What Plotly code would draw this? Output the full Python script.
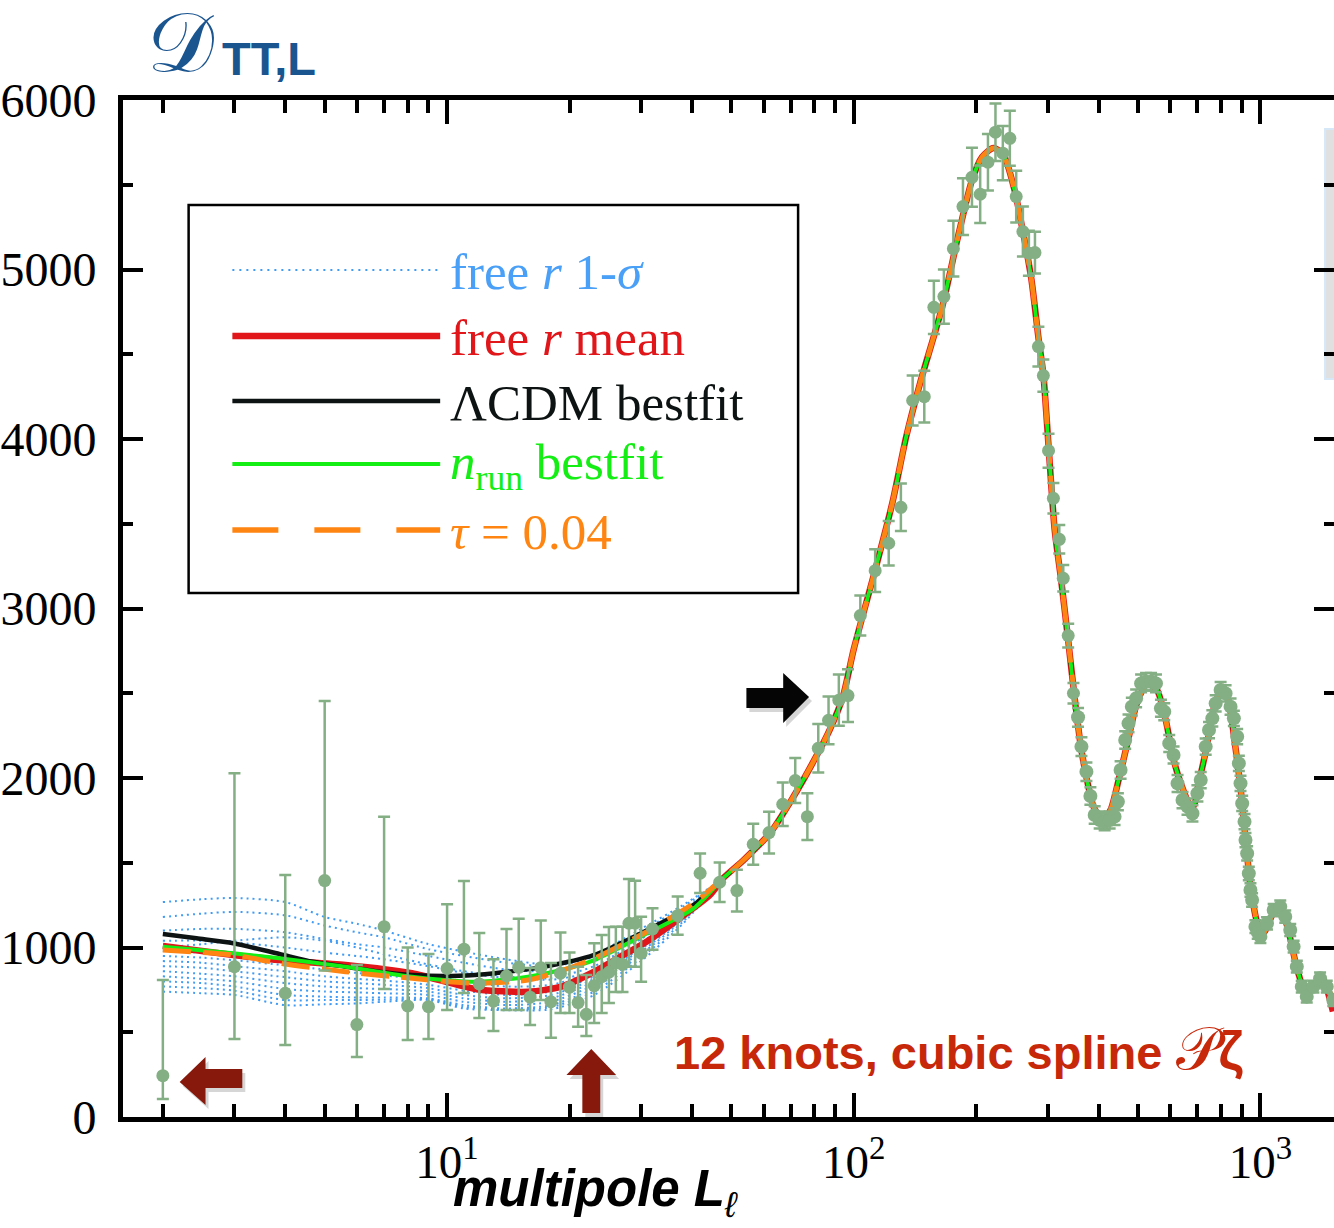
import math
import plotly.graph_objects as go

# ---------------- data ----------------
# unbinned low-ell points: ell, D, upper end of error bar, lower end of error bar
LOWL_L = list(range(2, 31))
LOWL_D = [244, 887, 730, 1395, 545, 1123, 655, 651, 876, 990, 785, 684, 832, 883, 707,
          881, 680, 848, 766, 675, 606, 775, 828, 854, 909, 901, 1143, 1143, 966]
LOWL_UP = [808, 2028, 1428, 2454, 897, 1772, 1000, 962, 1255, 1392, 1085, 930, 1109, 1170, 879,
           1159, 908, 1088, 970, 887, 838, 1025, 1074, 1121, 1123, 1123, 1404, 1394, 1182]
LOWL_LO = [106, 460, 425, 865, 354, 755, 454, 460, 631, 731, 584, 507, 631, 631, 543,
           690, 468, 613, 613, 533, 478, 555, 613, 673, 737, 737, 887, 887, 798]

# binned points with visible error bars
BIN_L = [32, 36.9, 41.9, 46.8, 51.6, 56.6, 61.9, 66.9, 71.8, 76.9, 81.8, 86.7, 91.9, 96.8,
         103.8, 112.9, 121.9, 130.6, 139.6, 149.1, 157.4, 166.6, 175.8, 185.6, 195.3, 204.6,
         213.8, 223.1, 232.6, 242.0, 250.9, 260.6, 269.6, 279.0, 284.5, 292.6, 301.3, 309.7,
         320.2, 327.5, 336.8, 347.0]
BIN_D = [1109, 1188, 1438, 1385, 1336, 1609, 1678, 1845, 1985, 1772, 2175, 2340, 2459, 2486,
         2958, 3223, 3385, 3597, 4227, 4250, 4777, 4840, 5123, 5371, 5544, 5444, 5633, 5810,
         5686, 5774, 5430, 5224, 5096, 5100, 4545, 4374, 3931, 3650, 3408, 3178, 2840, 2500]
BIN_ERR = [123, 113, 116, 116, 123, 121, 123, 128, 133, 138, 143, 141, 151, 155, 118, 126,
           131, 140, 148, 153, 157, 160, 164, 167, 174, 170, 167, 170, 160, 162, 152, 148,
           133, 123, 117, 95, 100, 90, 84, 78, 70, 60]

# dense high-ell binned points
HI_L = [356.1, 363, 373.4, 381.9, 391.3, 402.5, 414, 425.8, 437.9, 446.2, 453.1, 465.1, 473.9,
        482.9, 494.8, 508.9, 523.4, 538.3, 553.6, 569.4, 580.2, 596.8, 611.6, 625.6, 643.4,
        661.8, 680.6, 700, 713.3, 733.6, 747.5, 761.7, 776.2, 798.3, 821.1, 844.5, 860.5,
        876.8, 885.1, 893.5, 902, 914, 919, 927.7, 936.5, 945.2, 954.1, 972.2, 985, 1000,
        1038, 1078, 1119, 1151, 1184, 1207, 1229, 1264, 1300, 1350, 1402, 1456, 1511]
HI_D = [2358, 2185, 2037, 1894, 1782, 1752, 1742, 1752, 1772, 1860, 2047, 2224, 2322, 2421,
        2470, 2558, 2568, 2568, 2558, 2411, 2391, 2204, 2136, 1968, 1870, 1831, 1791, 1909,
        1988, 2185, 2283, 2352, 2440, 2519, 2499, 2421, 2352, 2244, 2086, 1968, 1850, 1742,
        1634, 1555, 1437, 1339, 1280, 1123, 1090, 1064, 1142, 1221, 1241, 1182, 1103, 1005,
        887, 769, 710, 769, 818, 769, 690]
HI_ERR = [55, 55, 55, 52, 52, 50, 50, 50, 50, 50, 52, 52, 52, 52, 52, 52, 52, 52, 52, 50, 50,
          50, 50, 50, 48, 48, 48, 48, 48, 48, 48, 48, 48, 48, 48, 48, 45, 45, 45, 45, 45, 45,
          42, 42, 40, 40, 40, 38, 38, 38, 36, 36, 36, 36, 35, 35, 35, 35, 35, 35, 35, 35, 35]

# shared theory curve (l >~ 48)
MAIN_L = [47.8, 53.6, 62.3, 71.0, 79.2, 87.2, 94.0, 100.0, 112.9, 124.4, 134.6, 145.6, 165.0,
          181.3, 195.4, 206.8, 220.6, 233.6, 248.5, 263.0, 273.6, 284.5, 292.6, 301.3, 312.0,
          323.6, 336.0, 349.0, 362, 376, 389, 410, 428, 448, 471, 497, 527, 557, 585, 612,
          637, 667, 685, 702, 735, 770, 809, 837, 870, 895, 920, 946, 983, 1017, 1076, 1119,
          1171, 1233, 1297, 1367, 1416, 1508]
MAIN_D = [1410, 1516, 1676, 1888, 2088, 2283, 2478, 2760, 3227, 3622, 4014, 4330, 4779,
          5215, 5528, 5664, 5717, 5675, 5469, 5174, 4938, 4600, 4380, 3960, 3463,
          3168, 2834, 2480, 2183, 1970, 1829, 1752, 1811, 1988, 2206, 2442, 2560, 2519, 2342,
          2106, 1970, 1852, 1835, 1947, 2165, 2419, 2537, 2442, 2165, 1929, 1634, 1357, 1145,
          1086, 1204, 1239, 1103, 867, 732, 791, 826, 690]

# low-ell parts of the individual model curves
BLACK_LOW_L = [2, 2.42, 2.98, 3.87, 4.67, 5.63, 6.80, 8.2, 9.89, 11.7, 13.1, 17.4, 23.0, 30.5, 40.4]
BLACK_LOW_D = [1080, 1054, 1025, 962, 916, 887, 857, 838, 832, 838, 848, 887, 956, 1093, 1251]
RED_LOW_L = [2, 2.98, 3.87, 5.63, 8.2, 11.8, 15.8, 19.1, 23.0, 26.7, 30.5, 36.8, 44.3]
RED_LOW_D = [1009, 956, 926, 897, 848, 754, 739, 769, 857, 946, 1025, 1162, 1310]
RED_END_L = [1508]
RED_END_D = [622]
GREEN_LOW_L = [2, 2.98, 3.87, 5.63, 8.2, 11.8, 15.8, 19.1, 23.0, 30.5, 40.4]
GREEN_LOW_D = [1005, 966, 936, 887, 828, 798, 828, 867, 926, 1074, 1231]
ORANGE_LOW_L = [2, 2.98, 3.87, 5.63, 8.2, 11.7, 15.8, 19.1, 23.0, 30.5, 40.4]
ORANGE_LOW_D = [985, 956, 907, 857, 818, 789, 808, 863, 936, 1084, 1261]

# free-r 1-sigma sample curves (low-ell part)
BLUE_L = [2, 2.5, 3, 4, 5, 6, 7, 9, 11, 14, 18, 23, 30, 38]
BLUE_1 = [1268, 1285, 1292, 1268, 1180, 1140, 1100, 1020, 975, 930, 900, 960, 1110, 1250]
BLUE_2 = [1180, 1200, 1210, 1190, 1130, 1090, 1060, 990, 950, 910, 890, 945, 1095, 1240]
BLUE_3 = [1100, 1110, 1110, 1090, 1050, 1020, 1000, 950, 910, 870, 860, 920, 1070, 1220]
BLUE_4 = [1040, 1040, 1030, 1000, 970, 950, 930, 890, 850, 820, 820, 890, 1050, 1210]
BLUE_5 = [980, 970, 960, 930, 900, 880, 865, 840, 800, 770, 780, 860, 1030, 1200]
BLUE_6 = [920, 910, 890, 860, 830, 815, 805, 780, 745, 720, 740, 830, 1010, 1190]
BLUE_7 = [860, 845, 830, 790, 770, 760, 755, 740, 700, 680, 700, 800, 990, 1180]
BLUE_8 = [800, 790, 770, 720, 710, 705, 705, 700, 660, 640, 660, 760, 960, 1165]
BLUE_9 = [740, 730, 720, 660, 665, 670, 680, 690, 640, 630, 635, 720, 920, 1140]
BLUE_10 = [1000, 1020, 1040, 1060, 1040, 1000, 960, 900, 860, 830, 810, 860, 1000, 1170]
BLUE_11 = [950, 940, 925, 895, 870, 850, 835, 810, 775, 745, 760, 845, 1020, 1195]
BLUE_12 = [890, 880, 860, 825, 800, 790, 780, 760, 720, 700, 720, 815, 1000, 1185]
BLUE_13 = [830, 815, 800, 755, 740, 735, 730, 720, 680, 660, 680, 780, 975, 1172]
BLUE_14 = [770, 760, 745, 690, 690, 690, 692, 695, 650, 635, 648, 740, 940, 1152]
BLUE_SETS = [BLUE_1, BLUE_2, BLUE_3, BLUE_4, BLUE_5, BLUE_6, BLUE_7, BLUE_8, BLUE_9,
             BLUE_10, BLUE_11, BLUE_12, BLUE_13, BLUE_14]

X_MAJOR = [10, 100, 1000]
X_MAJOR_TEXT = ["10<sup>1</sup>", "10<sup>2</sup>", "10<sup>3</sup>"]
X_MINOR = [2, 3, 4, 5, 6, 7, 8, 9, 20, 30, 40, 50, 60, 70, 80, 90,
           200, 300, 400, 500, 600, 700, 800, 900]
Y_TICKS = [0, 1000, 2000, 3000, 4000, 5000, 6000]
X_LIMITS = [1.596, 1517]
Y_LIMITS = [0, 6000]

# ---------------- styling / geometry ----------------
W, H = 1334, 1228
L0, R0, T0, B0 = 116, 1334, 100, 1117


def px(x):
    return (x - L0) / (R0 - L0)


def py(y):
    return (B0 - y) / (B0 - T0)


C_BLUE = "#3f9bf4"
C_RED = "#e0161b"
C_BLACK = "#0d1212"
C_GREEN = "#14ee14"
C_ORANGE = "#ff8512"
C_DATA = "#84ae84"
SERIF = "Liberation Serif, DejaVu Serif, serif"

fig = go.Figure()

for b in BLUE_SETS:
    fig.add_trace(go.Scatter(x=BLUE_L + MAIN_L, y=b + MAIN_D, mode="lines",
                             line=dict(color=C_BLUE, width=2, dash="2px,4px",
                                       shape="spline", smoothing=0.7),
                             hoverinfo="skip"))

fig.add_trace(go.Scatter(x=RED_LOW_L + MAIN_L[:-1] + RED_END_L,
                         y=RED_LOW_D + MAIN_D[:-1] + RED_END_D, mode="lines",
                         line=dict(color=C_RED, width=6.5, shape="spline", smoothing=0.7)))
fig.add_trace(go.Scatter(x=BLACK_LOW_L + MAIN_L, y=BLACK_LOW_D + MAIN_D, mode="lines",
                         line=dict(color=C_BLACK, width=4.5, shape="spline", smoothing=0.7)))
fig.add_trace(go.Scatter(x=GREEN_LOW_L + MAIN_L, y=GREEN_LOW_D + MAIN_D, mode="lines",
                         line=dict(color=C_GREEN, width=4, shape="spline", smoothing=0.7)))
fig.add_trace(go.Scatter(x=ORANGE_LOW_L + MAIN_L, y=ORANGE_LOW_D + MAIN_D, mode="lines",
                         line=dict(color=C_ORANGE, width=5, dash="28px,12px",
                                   shape="spline", smoothing=0.7)))

# data points
fig.add_trace(go.Scatter(
    x=LOWL_L, y=LOWL_D, mode="markers",
    marker=dict(color=C_DATA, size=13),
    error_y=dict(type="data", symmetric=False,
                 array=[u - d for u, d in zip(LOWL_UP, LOWL_D)],
                 arrayminus=[d - lo for d, lo in zip(LOWL_D, LOWL_LO)],
                 color=C_DATA, thickness=2.5, width=6)))
fig.add_trace(go.Scatter(
    x=BIN_L, y=BIN_D, mode="markers",
    marker=dict(color=C_DATA, size=13),
    error_y=dict(type="data", array=BIN_ERR, color=C_DATA, thickness=2.5, width=6)))
fig.add_trace(go.Scatter(
    x=HI_L, y=HI_D, mode="markers",
    marker=dict(color=C_DATA, size=14),
    error_y=dict(type="data", array=HI_ERR, color=C_DATA, thickness=2.5, width=6)))

# empty traces to activate the mirrored axes
fig.add_trace(go.Scatter(x=[], y=[], xaxis="x2", yaxis="y"))
fig.add_trace(go.Scatter(x=[], y=[], xaxis="x", yaxis="y2"))

xr = [math.log10(X_LIMITS[0]), math.log10(X_LIMITS[1])]
minor_x = dict(tickmode="array", tickvals=X_MINOR, ticks="inside", ticklen=13,
               tickwidth=4, tickcolor="black", showgrid=False)
minor_y = dict(dtick=500, tick0=0, ticks="inside", ticklen=10, tickwidth=4,
               tickcolor="black", showgrid=False)

fig.update_layout(
    width=W, height=H,
    margin=dict(l=L0, r=W - R0, t=T0, b=H - B0, pad=0),
    paper_bgcolor="white", plot_bgcolor="white", showlegend=False,
    xaxis=dict(type="log", range=xr, tickmode="array", tickvals=X_MAJOR,
               ticktext=X_MAJOR_TEXT, ticks="inside", ticklen=24, tickwidth=4,
               tickcolor="black", showline=True, linewidth=5, linecolor="black",
               showgrid=False, zeroline=False, ticklabelstandoff=0,
               tickfont=dict(family=SERIF, size=47, color="black"), minor=minor_x),
    xaxis2=dict(type="log", range=xr, overlaying="x", side="top", anchor="y",
                tickmode="array", tickvals=X_MAJOR, ticks="inside", ticklen=24,
                tickwidth=4, tickcolor="black", showticklabels=False, showline=True,
                linewidth=5, linecolor="black", showgrid=False, zeroline=False,
                minor=minor_x),
    yaxis=dict(range=Y_LIMITS, tickmode="array", tickvals=Y_TICKS, ticks="inside",
               ticklen=20, tickwidth=4, tickcolor="black", showline=True, linewidth=5,
               linecolor="black", showgrid=False, zeroline=False, ticklabelstandoff=12,
               tickfont=dict(family=SERIF, size=48, color="black"), minor=minor_y),
    yaxis2=dict(range=Y_LIMITS, overlaying="y", side="right", anchor="x",
                tickmode="array", tickvals=Y_TICKS, ticks="inside", ticklen=20,
                tickwidth=4, tickcolor="black", showticklabels=False, showline=False,
                showgrid=False, zeroline=False, minor=minor_y),
)

shapes = []
# grey panel peeking in at the right edge
shapes.append(dict(type="rect", xref="paper", yref="paper", x0=px(1325), x1=1.02,
                   y0=py(379), y1=py(129), fillcolor="#e0e0e1",
                   line=dict(color="#d6e7f8", width=2), layer="below"))
# legend box
shapes.append(dict(type="rect", xref="paper", yref="paper", x0=px(182), x1=px(795),
                   y0=py(593), y1=py(205), fillcolor="white",
                   line=dict(color="black", width=2.5), layer="above"))
LEG_ROWS = [270, 336, 401, 464, 530]
leg_styles = [dict(color=C_BLUE, width=2, dash="2px,5px"),
              dict(color=C_RED, width=6.5),
              dict(color=C_BLACK, width=4.5),
              dict(color=C_GREEN, width=4),
              dict(color=C_ORANGE, width=5.5, dash="46px,36px")]
for ry, st in zip(LEG_ROWS, leg_styles):
    shapes.append(dict(type="line", xref="paper", yref="paper", x0=px(226), x1=px(435),
                       y0=py(ry), y1=py(ry), line=st, layer="above"))


def arrow_path(pts):
    return "M " + " L ".join(f"{px(a):.5f},{py(b):.5f}" for a, b in pts) + " Z"


ARROWS = [
    ([(173, 1082), (199, 1057), (199, 1069), (236, 1069), (236, 1088), (199, 1088),
      (199, 1105)], "#86190b"),
    ([(587, 1049), (612, 1075), (596, 1075), (596, 1113), (578, 1113), (578, 1075),
      (562, 1075)], "#86190b"),
    ([(806, 697), (780, 673), (780, 688), (743, 688), (743, 708), (780, 708),
      (780, 723)], "#050505"),
]
for pts, col in ARROWS:
    shadow = [(a + 3, b + 4) for a, b in pts]
    shapes.append(dict(type="path", xref="paper", yref="paper", path=arrow_path(shadow),
                       fillcolor="rgba(0,0,0,0.16)", line=dict(width=0), layer="above"))
    shapes.append(dict(type="path", xref="paper", yref="paper", path=arrow_path(pts),
                       fillcolor=col, line=dict(width=0), layer="above"))
fig.update_layout(shapes=shapes)

ann = []
LEG_TEXT = ["free <i>r</i> 1-<i>σ</i>", "free <i>r</i> mean", "ΛCDM bestfit",
            "<i>n</i><sub>run</sub> bestfit", "<i>τ</i> = 0.04"]
LEG_COL = ["#4aa0f7", C_RED, C_BLACK, C_GREEN, C_ORANGE]
for ry, t, c in zip(LEG_ROWS, LEG_TEXT, LEG_COL):
    ann.append(dict(xref="paper", yref="paper", x=px(443), y=py(ry + 2), text=t,
                    showarrow=False, xanchor="left", yanchor="middle",
                    font=dict(family=SERIF, size=51, color=c)))
# panel label
ann.append(dict(xref="paper", yref="paper", x=px(138), y=py(42), text="𝒟",
                showarrow=False, xanchor="left", yanchor="middle",
                font=dict(family="DejaVu Serif, DejaVu Sans, serif", size=84, color="#1b5590")))
ann.append(dict(xref="paper", yref="paper", x=px(214), y=py(58), text="<b>TT,L</b>",
                showarrow=False, xanchor="left", yanchor="middle",
                font=dict(family="Liberation Sans, Arial, sans-serif", size=47, color="#1b5590")))
# annotation text
ann.append(dict(xref="paper", yref="paper", x=px(668), y=py(1048),
                text="<b>12 knots, cubic spline </b><span style='font-size:60px'>𝒫</span>"
                     "<b><span style='font-size:54px'>ζ</span></b>",
                showarrow=False, xanchor="left", yanchor="middle",
                font=dict(family="Liberation Sans, Arial, sans-serif",
                          size=47, color="#c8280a")))
# x axis title
ann.append(dict(xref="paper", yref="paper", x=px(446), y=py(1192),
                text="<b><i>multipole L</i></b><sub><i>ℓ</i></sub>",
                showarrow=False, xanchor="left", yanchor="middle",
                font=dict(family="Liberation Sans, Arial, sans-serif", size=51, color="black")))
fig.update_layout(annotations=ann)

fig.write_html("out.html")
